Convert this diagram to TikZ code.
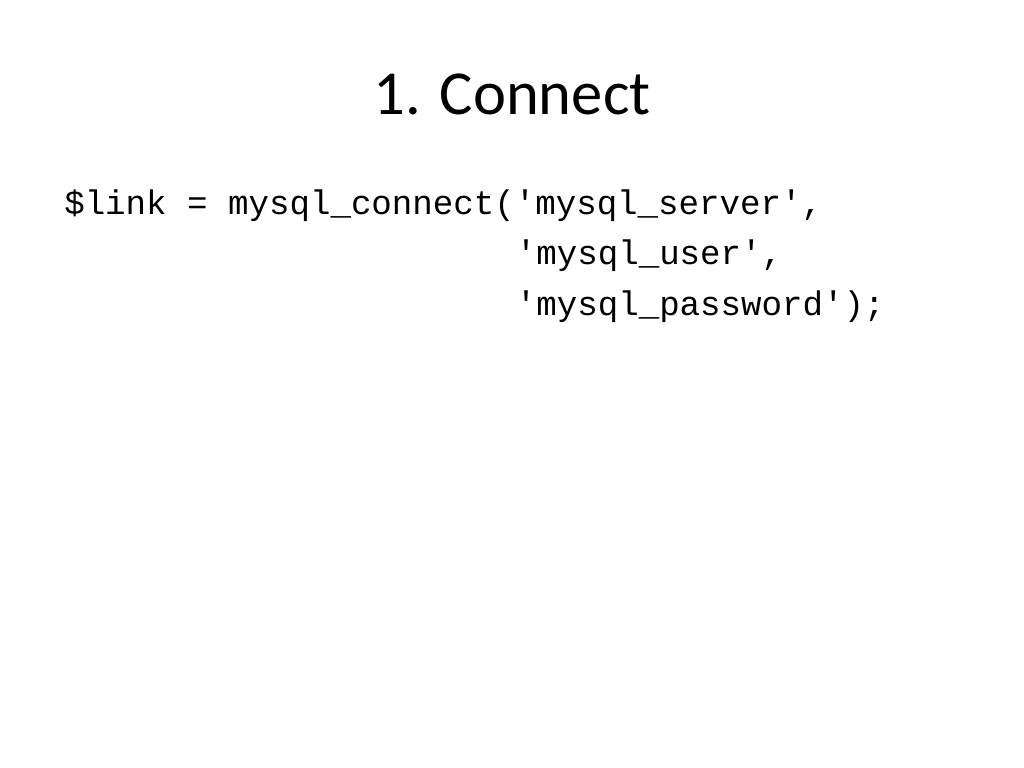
\documentclass[tikz,border=0pt]{standalone}
\usepackage{fontspec}
\setmainfont{Carlito}
\setmonofont{Liberation Mono}
\usetikzlibrary{positioning}

\tikzset{
  title/.style={font=\fontsize{44}{52}\selectfont, inner sep=0pt, anchor=base},
  code/.style={font=\ttfamily\fontsize{24}{29}\selectfont, inner sep=0pt, anchor=base west}
}
\newcommand{\q}{\textquotesingle}

\begin{document}
\begin{tikzpicture}[x=0.703125pt, y=-0.703125pt]
  \useasboundingbox (0,0) rectangle (1024,768);
  \node [title] (head) at (512,115) {1. Connect};
  \node [code] (server) at (64,215) {\$link = mysql\_connect(\q mysql\_server\q,};
  \node [code] (user) at (515.6,265) {\q mysql\_user\q,};
  \node [code] (pass) at (515.6,315) {\q mysql\_password\q);};
\end{tikzpicture}
\end{document}
